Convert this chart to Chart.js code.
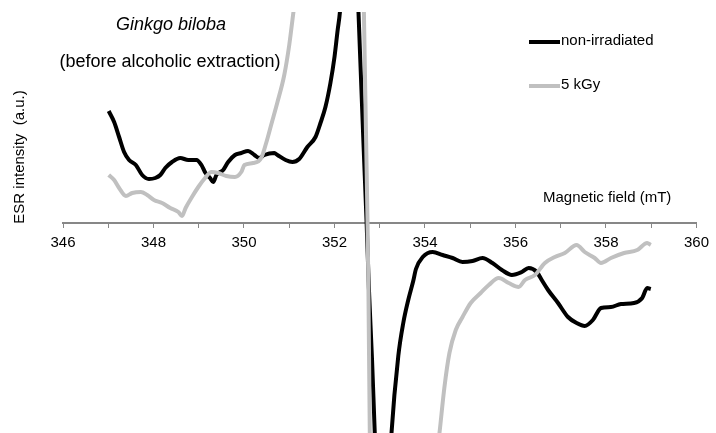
<!DOCTYPE html>
<html>
<head>
<meta charset="utf-8">
<title>Ginkgo biloba ESR</title>
<script src="https://cdn.jsdelivr.net/npm/chart.js@4/dist/chart.umd.min.js"></script>
<style>
  html, body { margin: 0; padding: 0; background: #fff; }
  #wrap { width: 716px; height: 433px; position: relative; }
</style>
</head>
<body>
<div id="wrap"><canvas id="esr"></canvas></div>
<script>
'use strict';

// magnetic field (mT) and ESR intensity (a.u.)
var fieldNonIrr = [347.01, 347.13, 347.24, 347.35, 347.46, 347.61, 347.75, 347.90, 348.04, 348.15,
  348.26, 348.41, 348.59, 348.77, 348.95, 349.06, 349.15, 349.25, 349.32, 349.39,
  349.54, 349.65, 349.80, 349.94, 350.09, 350.23, 350.34, 350.45, 350.67, 350.74,
  350.92, 351.07, 351.22, 351.40, 351.58, 351.69, 351.80, 351.91, 352.00, 352.07,
  352.12, 352.38, 352.53, 352.64, 352.71, 352.76, 352.83, 352.89, 353.06, 353.26,
  353.41, 353.52, 353.63, 353.74, 353.80, 353.95, 354.17, 354.39, 354.61, 354.83,
  355.05, 355.27, 355.49, 355.70, 355.92, 356.14, 356.29, 356.47, 356.58, 356.72,
  356.94, 357.16, 357.35, 357.53, 357.71, 357.89, 358.11, 358.33, 358.62, 358.80,
  358.91, 358.99];
var esrNonIrr = [112, 101, 86, 71, 63, 58, 48, 44, 45, 48,
  55, 61, 65, 63, 63, 58, 50, 45, 41, 48,
  53, 61, 68, 70, 72, 68, 65, 68, 70, 68,
  63, 61, 64, 76, 86, 100, 116, 140, 166, 193,
  211, 390, 211, 80, 0, -65, -137, -210, -390, -210,
  -133, -100, -77, -58, -46, -34, -29, -32, -35, -39,
  -38, -35, -40, -47, -52, -49, -45, -49, -57, -67,
  -80, -94, -100, -103, -97, -85, -84, -81, -80, -75,
  -65, -66];

var field5kGy = [347.01, 347.13, 347.24, 347.39, 347.53, 347.72, 347.86, 348.01, 348.19, 348.37,
  348.55, 348.63, 348.71, 348.85, 348.99, 349.14, 349.28, 349.43, 349.61, 349.80,
  349.94, 350.01, 350.20, 350.38, 350.49, 350.60, 350.74, 350.89, 351.00, 351.09,
  352.49, 352.65, 352.70, 352.73, 352.75, 352.78, 353.04, 354.32, 354.43, 354.54,
  354.68, 354.83, 355.01, 355.23, 355.41, 355.63, 355.85, 356.07, 356.21, 356.43,
  356.65, 356.87, 357.09, 357.35, 357.53, 357.75, 357.89, 358.11, 358.40, 358.69,
  358.91, 358.99];
var esr5kGy = [48, 43, 35, 27, 30, 31, 28, 23, 20, 15,
  11, 7, 15, 26, 36, 45, 51, 50, 47, 46,
  51, 58, 60, 65, 80, 98, 121, 148, 178, 210,
  700, 211, 80, 0, -67, -210, -700, -210, -164, -130,
  -107, -94, -80, -70, -62, -55, -60, -64, -57, -52,
  -40, -34, -30, -22, -29, -35, -40, -35, -30, -27,
  -20, -22];

var seriesLabels = ['non-irradiated', '5 kGy'];
var seriesColors = ['#000000', '#c0c0c0'];
var tickLabels = ['346', '348', '350', '352', '354', '356', '358', '360'];

function toPoints(xs, ys) {
  return xs.map(function(x, i) { return {x: x, y: ys[i]}; });
}

var FONT = '"Liberation Sans", Arial, sans-serif';

var annotations = {
  id: 'annotations',
  afterDraw: function(chart) {
    var ctx = chart.ctx;
    ctx.save();
    ctx.fillStyle = '#000';
    ctx.textAlign = 'center';
    ctx.textBaseline = 'middle';

    ctx.font = 'italic 18px ' + FONT;
    ctx.fillText('Ginkgo biloba', 171, 25);
    ctx.font = '18px ' + FONT;
    ctx.fillText('(before alcoholic extraction)', 170, 62);

    ctx.font = '15px ' + FONT;
    ctx.textAlign = 'left';
    ctx.fillText('Magnetic field (mT)', 543, 198);

    // legend
    var rows = [42, 86];
    rows.forEach(function(y, i) {
      ctx.strokeStyle = seriesColors[i];
      ctx.lineWidth = 4;
      ctx.beginPath();
      ctx.moveTo(529, y);
      ctx.lineTo(560, y);
      ctx.stroke();
      ctx.fillText(seriesLabels[i], 561, y - 1);
    });

    ctx.translate(20, 157);
    ctx.rotate(-Math.PI / 2);
    ctx.textAlign = 'center';
    ctx.fillText('ESR intensity  (a.u.)', 0, 0);
    ctx.restore();
  }
};

new Chart(document.getElementById('esr'), {
  type: 'line',
  data: {
    datasets: [{
      label: seriesLabels[0],
      data: toPoints(fieldNonIrr, esrNonIrr),
      borderColor: seriesColors[0],
      borderWidth: 4,
      pointRadius: 0,
      cubicInterpolationMode: 'monotone',
      clip: 0,
      order: 2
    }, {
      label: seriesLabels[1],
      data: toPoints(field5kGy, esr5kGy),
      borderColor: seriesColors[1],
      borderWidth: 4,
      pointRadius: 0,
      cubicInterpolationMode: 'monotone',
      clip: 0,
      order: 1
    }]
  },
  options: {
    responsive: true,
    maintainAspectRatio: false,
    animation: false,
    events: [],
    layout: { padding: { top: 12, left: 63, right: 13, bottom: 0 } },
    plugins: {
      legend: { display: false },
      tooltip: { enabled: false }
    },
    scales: {
      x: {
        type: 'linear',
        position: { y: 0 },
        min: 346,
        max: 360,
        border: { color: '#878787', width: 2 },
        grid: { drawOnChartArea: false, drawTicks: true, tickLength: 4, color: '#878787' },
        ticks: {
          stepSize: 1,
          autoSkip: false,
          maxRotation: 0,
          padding: 7,
          color: '#000',
          font: { family: FONT, size: 15 },
          callback: function(value) {
            var label = String(value);
            return tickLabels.indexOf(label) >= 0 ? label : '';
          }
        }
      },
      y: {
        type: 'linear',
        display: false,
        min: -210,
        max: 211
      }
    }
  },
  plugins: [annotations]
});
</script>
</body>
</html>
